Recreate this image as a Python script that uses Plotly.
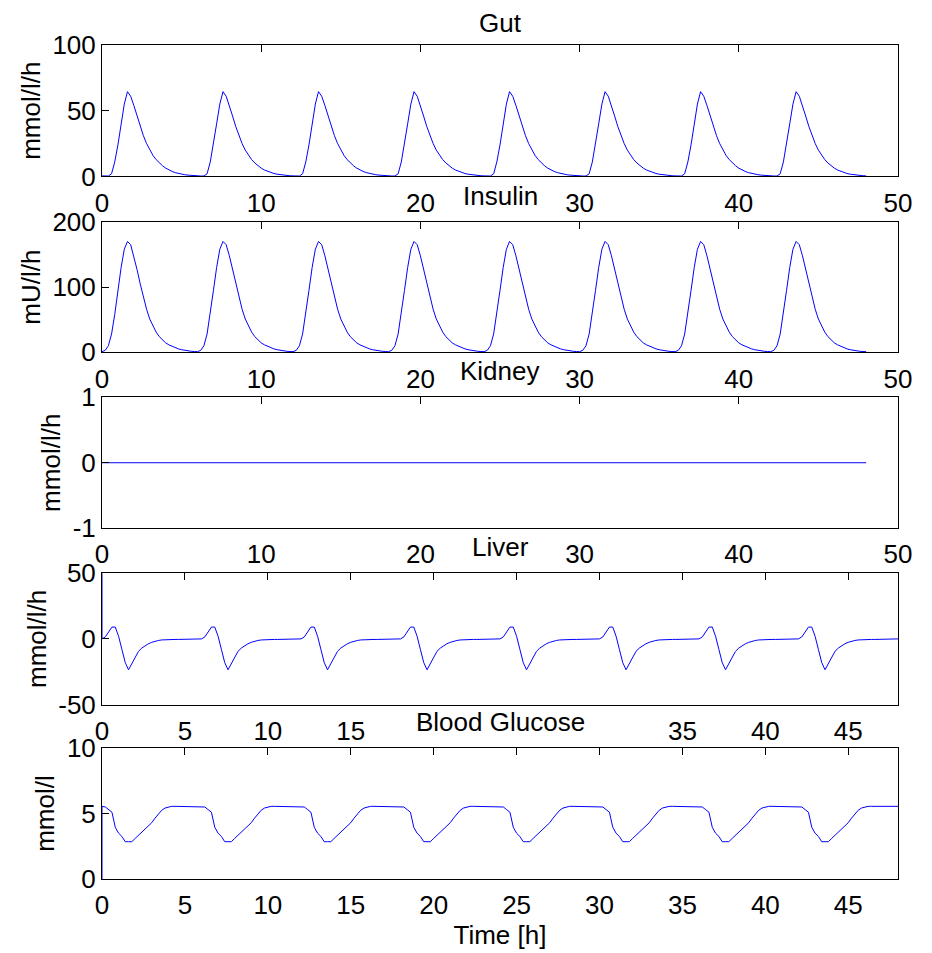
import numpy as np
import plotly.graph_objects as go

# ---------------- data ----------------
meal_times = [0, 6, 12, 18, 24, 30, 36, 42]          # h, start of each 6-h cycle
cycle_t = [0.0, 0.2, 0.4, 0.6, 0.8, 1.0, 1.2, 1.4, 1.6, 1.8,
           2.0, 2.2, 2.4, 2.6, 2.8, 3.0, 3.2, 3.4, 3.6, 3.8,
           4.0, 4.2, 4.4, 4.6, 4.8, 5.0, 5.2, 5.4, 5.6, 5.8]
end_t = 48.0

gut_cycle = [0.4, 0.3, 0.3, 2, 11, 24, 40, 55, 64.5, 61,
             54, 46, 38, 31, 25, 20, 16, 12.8, 10.2, 8.1,
             6.3, 4.9, 3.8, 2.9, 2.2, 1.7, 1.3, 1.0, 0.7, 0.5]
gut_end = 0.4

insulin_cycle = [1, 3, 10, 28, 58, 95, 130, 158, 170, 165,
                 148, 127, 105, 84, 66, 51, 40, 31, 24, 18.5,
                 14.5, 11.5, 9, 7, 5.3, 4, 3, 2.2, 1.6, 1.2]
insulin_end = 1

kidney_cycle = [0] * 30
kidney_end = 0

liver_initial = 50
liver_cycle = [0, 1.5, 5, 9, 9, 2, -8, -18, -23.5, -19,
               -14, -9.5, -7, -5, -3.7, -2.6, -1.7, -1.2, -0.8, -0.6,
               -0.5, -0.5, -0.4, -0.4, -0.4, 0, 0, 0, 0, 0]
liver_end = 0

glucose_initial = 0
glucose_cycle = [5.55, 5.5, 5.3, 5.1, 3.95, 3.5, 3.25, 2.85, 2.85, 2.85,
                 3.1, 3.35, 3.6, 3.85, 4.05, 4.3, 4.65, 4.95, 5.25, 5.42,
                 5.5, 5.55, 5.55, 5.55, 5.55, 5.55, 5.55, 5.55, 5.55, 5.55]
glucose_end = 5.55

titles = ["Gut", "Insulin", "Kidney", "Liver", "Blood Glucose"]
ylabels = ["mmol/l/h", "mU/l/h", "mmol/l/h", "mmol/l/h", "mmol/l"]
y_ranges = [[0, 100], [0, 200], [-1, 1], [-50, 50], [0, 10]]
y_ticks = [[0, 50, 100], [0, 100, 200], [-1, 0, 1], [-50, 0, 50], [0, 5, 10]]
y_ticktext = [["0", "50", "100"], ["0", "100", "200"], ["-1", "0", "1"],
              ["-50", "0", "50"], ["0", "5", "10"]]
x_ranges = [[0, 50], [0, 50], [0, 50], [0, 48], [0, 48]]
x_ticks_a = [0, 10, 20, 30, 40, 50]
x_ticks_b = [0, 5, 10, 15, 20, 25, 30, 35, 40, 45]
x_ticks = [x_ticks_a, x_ticks_a, x_ticks_a, x_ticks_b, x_ticks_b]
# in the reference the Liver labels 20, 25, 30 are hidden behind the "Blood Glucose" title
liver_ticktext = ["0", "5", "10", "15", "", "", "", "35", "40", "45"]
x_ticktext = [None, None, None, liver_ticktext, None]
xlabel = "Time [h]"

# ---------------- build series ----------------
t_all = np.concatenate([np.array(cycle_t) + m for m in meal_times] + [[end_t]])

def full(cycle, end):
    return np.concatenate([np.array(cycle, float)] * len(meal_times) + [[end]])

series = [
    (t_all, full(gut_cycle, gut_end)),
    (t_all, full(insulin_cycle, insulin_end)),
    (t_all, full(kidney_cycle, kidney_end)),
    (np.concatenate([[0.0], t_all]), np.concatenate([[liver_initial], full(liver_cycle, liver_end)])),
    (np.concatenate([[0.0], t_all]), np.concatenate([[glucose_initial], full(glucose_cycle, glucose_end)])),
]

# ---------------- layout geometry (pixels, page offset of 8 px body margin) ----------------
OFF = 8
W, H = 932 - OFF, 953 - OFF
L, R = 102 - OFF, 898 - OFF
panel_px = [(45, 176.5), (222, 352.5), (397.5, 528.5), (573.5, 705), (748.5, 879.5)]
panel_px = [(a - OFF, b - OFF) for a, b in panel_px]
T, B = panel_px[0][0], panel_px[-1][1]
ph = B - T
title_shift = [6, 10, 10, 10, 10]

FONT = "Liberation Sans, Arial, sans-serif"
FS = 26
fig = go.Figure()
layout = dict(
    width=W, height=H,
    margin=dict(l=L, r=W - R, t=T, b=H - B, pad=0),
    paper_bgcolor="white", plot_bgcolor="white",
    showlegend=False, template="none",
    font=dict(family=FONT, size=FS, color="black"),
)
annotations = []
for i in range(5):
    n = i + 1
    xa = "x" if n == 1 else f"x{n}"
    ya = "y" if n == 1 else f"y{n}"
    top, bot = panel_px[i]
    dom = [(B - bot) / ph, (B - top) / ph]
    x, y = series[i]
    fig.add_trace(go.Scatter(x=x, y=y, mode="lines", line=dict(color="#0000ff", width=1),
                             xaxis=xa, yaxis=ya, hoverinfo="skip"))
    # overlay axis carrying the top tick marks only
    xo = f"x{n + 5}"
    fig.add_trace(go.Scatter(x=[], y=[], xaxis=xo, yaxis=ya, hoverinfo="skip"))
    xdef = dict(
        domain=[0, 1], anchor=ya, range=x_ranges[i], tickvals=x_ticks[i],
        ticks="", showline=True, linecolor="black", linewidth=1, mirror=True,
        showgrid=False, zeroline=False, tickfont=dict(size=FS), ticklabelstandoff=3,
        title=dict(text=xlabel if n == 5 else "", font=dict(size=FS), standoff=6),
    )
    if x_ticktext[i] is not None:
        xdef["ticktext"] = x_ticktext[i]
    layout[f"xaxis{'' if n == 1 else n}"] = xdef
    layout[f"xaxis{n + 5}"] = dict(
        domain=[0, 1], anchor=ya, overlaying=xa, side="top", range=x_ranges[i],
        tickvals=x_ticks[i], ticks="inside", ticklen=7, tickcolor="black",
        showticklabels=False, showline=False, showgrid=False, zeroline=False,
    )
    layout[f"yaxis{'' if n == 1 else n}"] = dict(
        domain=dom, anchor=xa, range=y_ranges[i], tickvals=y_ticks[i],
        ticktext=y_ticktext[i],
        ticks="inside", ticklen=7, tickcolor="black",
        showline=True, linecolor="black", linewidth=1, mirror=True,
        showgrid=False, zeroline=False, tickfont=dict(size=FS),
        title=dict(text=ylabels[i], font=dict(size=FS), standoff=4),
    )
    annotations.append(dict(
        text=titles[i], xref="paper", yref="paper", x=0.5, y=dom[1],
        xanchor="center", yanchor="bottom", yshift=title_shift[i],
        showarrow=False, font=dict(size=FS, color="black"), bgcolor="white", borderpad=0,
    ))
layout["annotations"] = annotations
fig.update_layout(**layout)
fig.write_html("out.html")
